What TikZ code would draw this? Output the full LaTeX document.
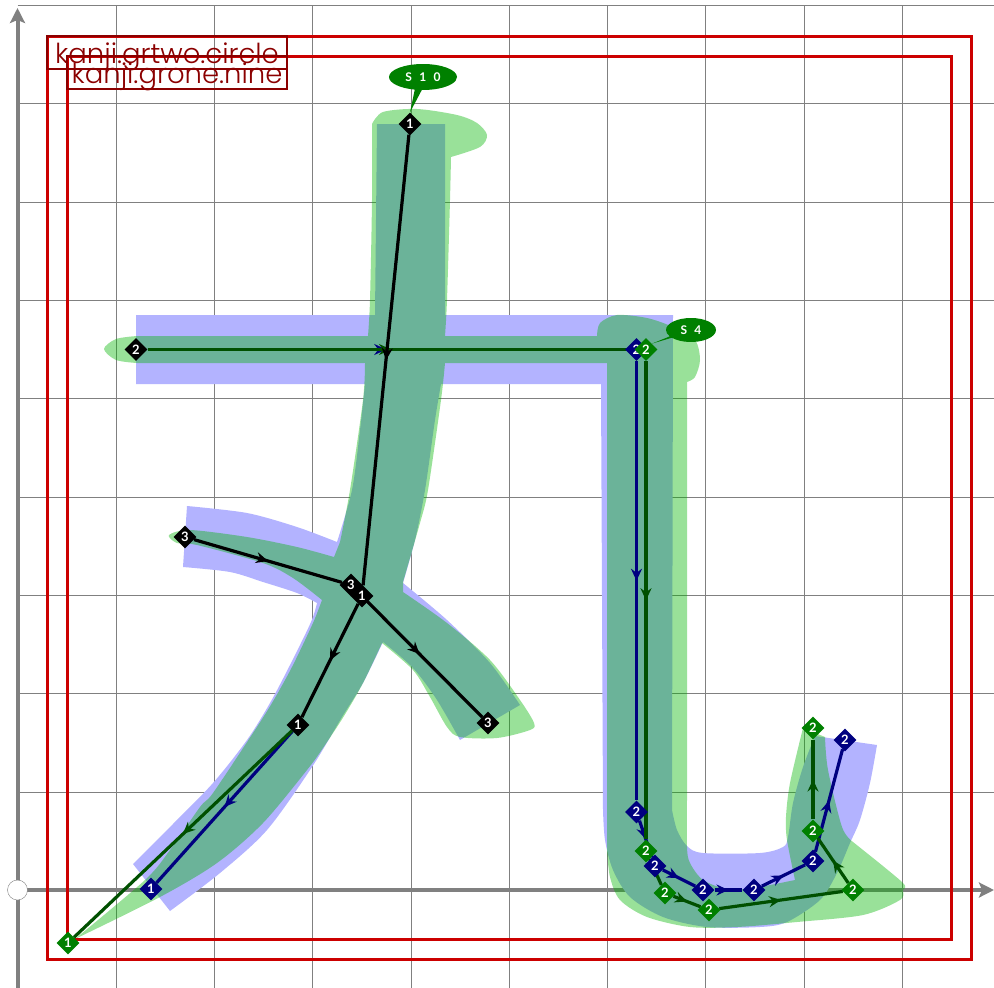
\documentclass[tikz,border=0pt]{standalone}
\usepackage{fontspec}
\setmainfont{Lato}
\newfontfamily\namefont{Poppins}[UprightFont=* Light]
\newfontfamily\tagfont{Lato}[WordSpace=2.5]
\usetikzlibrary{arrows.meta,backgrounds,decorations.markings,shapes.callouts,shapes.geometric}

\definecolor{glyphblue}{RGB}{179,179,255}
\definecolor{glyphgreen}{RGB}{0,180,0}
\definecolor{framered}{RGB}{204,0,0}
\definecolor{labelred}{RGB}{139,0,0}
\definecolor{ptblue}{RGB}{0,0,128}
\definecolor{ptgreen}{RGB}{0,128,0}
\definecolor{linegreen}{RGB}{0,80,0}

\newcommand*{\xzero}{17.5}
\newcommand*{\yzero}{890}
\newcommand*{\xmax}{994}
\newcommand*{\ymax}{988}
\newcommand*{\gridgap}{98.3}

\begin{document}
\begin{tikzpicture}
[
	x=1pt,y=-1pt,
	ptnode/.style={diamond,fill,text=white,inner sep=0pt,minimum size=23pt,font=\bfseries\fontsize{13}{13}\selectfont},
	blackpt/.style={black,ptnode},
	bluept/.style={ptblue,ptnode},
	greenpt/.style={ptgreen,ptnode},
	midarrow/.style={postaction={decorate,decoration={markings,mark=at position 0.5 with {\arrow{Stealth[length=12pt,width=11pt,inset=4pt]}}}}},
	strokeline/.style={line width=3.2pt,midarrow},
	tagnode/.style={ellipse callout,fill=ptgreen,text=white,inner sep=0pt,callout pointer arc=12,font=\tagfont\bfseries\fontsize{12}{12}\selectfont},
	framebox/.style={draw=framered,line width=3pt},
	namebox/.style={draw=labelred,line width=2pt,text=labelred,inner sep=0pt,minimum height=33pt,text height=21pt,text depth=0pt,font=\namefont\fontsize{27.5}{27.5}\selectfont},
	axisline/.style={draw=gray,line width=4pt,-{Stealth[length=15pt,width=15pt,inset=3pt]}}
]

	\useasboundingbox (0,0) rectangle (\xmax,\ymax);

	% points shared by the two glyphs
	\node[blackpt] at (410,124) (topone) {1};
	\node[blackpt] at (136,349.5) (bartwo) {2};
	\node[blackpt] at (185,537) (armleft) {3};
	\node[blackpt] at (351,585) (crossthree) {3};
	\node[blackpt] at (362,596) (crossone) {1};
	\node[blackpt] at (298,725) (joinone) {1};
	\node[blackpt] at (488,723) (armright) {3};

	% points of the blue glyph
	\node[bluept] at (151,889) (blueone) {1};
	\node[bluept] at (636.5,349.5) (bluetop) {2};
	\node[bluept] at (636.5,812) (bluea) {2};
	\node[bluept] at (655,866) (blueb) {2};
	\node[bluept] at (703,890) (bluec) {2};
	\node[bluept] at (754,890) (blued) {2};
	\node[bluept] at (813,861) (bluee) {2};
	\node[bluept] at (845,740) (bluef) {2};

	% points of the green glyph
	\node[greenpt] at (68,943) (greenone) {1};
	\node[greenpt] at (646,349.5) (greentop) {2};
	\node[greenpt] at (646,851) (greena) {2};
	\node[greenpt] at (665,893) (greenb) {2};
	\node[greenpt] at (709,910) (greenc) {2};
	\node[greenpt] at (853,890) (greend) {2};
	\node[greenpt] at (813,831) (greene) {2};
	\node[greenpt] at (813,728) (greenf) {2};

	\node[draw=gray,fill=white,circle,inner sep=0pt,minimum size=20pt] at (\xzero,\yzero) (origin) {};

	\begin{scope}[on background layer]

	% grid
	\foreach \i in {1,...,9} {
		\draw[gray] ({\xzero+\i*\gridgap},{\yzero-9*\gridgap}) -- ({\xzero+\i*\gridgap},\ymax);
		\draw[gray] (\xzero,{\yzero-\i*\gridgap}) -- (\xmax,{\yzero-\i*\gridgap});
	}

	% axes
	\coordinate (xstart) at (\xzero,\yzero);
	\coordinate (xend) at (\xmax,\yzero);
	\coordinate (ystart) at (\xzero,\ymax);
	\coordinate (yend) at (\xzero,8);
	\draw[axisline] (xstart) -- (xend);
	\draw[axisline] (ystart) -- (yend);

	% glyph outlines
	\fill[glyphblue] (377,124) -- (445,124) -- (445,315) -- (673,315) -- (672,810)
		-- plot[smooth] coordinates {(672,810) (677,830) (687,846) (703,853) (760,853) (783,847) (788,837) (793,803) (803,767) (815,736)}
		-- (877,745)
		-- plot[smooth] coordinates {(877,745) (870,783) (860,820) (850,843) (837,873) (820,900) (787,922) (760,927) (707,927) (663,917) (630,897) (613,870) (605,840) (603,810)}
		-- (601,384) -- (441,384)
		-- plot[smooth] coordinates {(441,384) (435,420) (425,490) (415,540) (403,583)}
		-- plot[smooth] coordinates {(403,583) (447,620) (490,663) (520,705)}
		-- (460,740)
		-- plot[smooth] coordinates {(460,740) (437,700) (413,668) (383,642)}
		-- plot[smooth] coordinates {(383,642) (363,683) (342,717) (312,767) (267,830) (220,873) (170,911)}
		-- (133,864)
		-- plot[smooth] coordinates {(133,864) (172,825) (213,783) (247,740) (270,703) (290,665) (311,622) (317,603)}
		-- plot[smooth] coordinates {(317,603) (297,593) (263,582) (230,572) (183,567)}
		-- (187,506)
		-- plot[smooth] coordinates {(187,506) (247,513) (297,527) (337,542)}
		-- plot[smooth] coordinates {(337,542) (352,490) (360,430) (365,384)}
		-- (136,384) -- (136,315) -- (375,315) -- cycle;
	\fill[glyphgreen,opacity=0.4] plot[smooth] coordinates {(372,124) (383,112) (417,109) (457,115) (477,123) (487,135) (480,147) (451,157)}
		-- plot[smooth] coordinates {(451,157) (450,200) (447,300) (445,336)}
		-- (597,336)
		-- plot[smooth] coordinates {(597,336) (600,323) (617,315) (647,318) (673,327) (695,340) (700,360) (695,377) (687,382)}
		-- (687,800)
		-- plot[smooth] coordinates {(687,800) (687,847) (690,863) (703,880) (727,889) (753,888) (795,880)}
		-- plot[smooth] coordinates {(795,880) (787,840) (786,817) (790,783) (803,728)}
		-- (825,737)
		-- plot[smooth] coordinates {(825,737) (828,770) (842,827) (853,842)}
		-- plot[smooth] coordinates {(853,842) (902,882) (903,890) (900,900) (863,915) (797,922) (737,927) (690,927) (647,917) (620,900) (610,877) (607,850)}
		-- (607,363) -- (445,363)
		-- plot[smooth] coordinates {(445,363) (441,400) (428,490) (420,523) (403,582)}
		-- plot[smooth] coordinates {(403,592) (447,623) (490,660) (520,700) (534,723) (530,730) (497,738) (460,737) (447,727) (430,697) (413,670) (382,643)}
		-- plot[smooth] coordinates {(382,643) (363,683) (344,716) (323,748) (307,770) (263,823) (217,863) (160,897) (75,939)}
		-- plot[smooth] coordinates {(75,939) (145,880) (170,850) (200,807) (213,793) (253,733) (272,703) (292,667) (313,623) (322,600)}
		-- plot[smooth] coordinates {(322,600) (293,578) (263,563) (197,545) (177,543) (169,535) (190,530) (247,537) (297,547) (334,557)}
		-- plot[smooth] coordinates {(340,542) (350,490) (363,400) (365,363)}
		-- (137,363)
		-- plot[smooth] coordinates {(137,363) (116,360) (104,349) (116,339) (137,336)}
		-- (368,336)
		-- plot[smooth] coordinates {(368,336) (370,300) (372,200) (372,124)} -- cycle;

	% frames and their names
	\draw[framebox] (47,36) rectangle (971,959);
	\draw[framebox] (67,56) rectangle (951,939);
	\node[namebox,minimum width=240pt] at (167,52.5) (nametwo) {kanji.grtwo.circle};
	\node[namebox,minimum width=220pt] at (177,72.5) (nameone) {kanji.grone.nine};

	% blue strokes
	\draw[ptblue,strokeline] (joinone) -- (blueone);
	\draw[ptblue,strokeline] (bartwo) -- (bluetop);
	\draw[ptblue,strokeline] (bluetop) -- (bluea);
	\draw[ptblue,strokeline] (bluea) -- (blueb);
	\draw[ptblue,strokeline] (blueb) -- (bluec);
	\draw[ptblue,strokeline] (bluec) -- (blued);
	\draw[ptblue,strokeline] (blued) -- (bluee);
	\draw[ptblue,strokeline] (bluee) -- (bluef);

	% green strokes
	\draw[linegreen,strokeline] (joinone) -- (greenone);
	\draw[linegreen,strokeline] (bartwo) -- (greentop);
	\draw[linegreen,strokeline] (greentop) -- (greena);
	\draw[linegreen,strokeline] (greena) -- (greenb);
	\draw[linegreen,strokeline] (greenb) -- (greenc);
	\draw[linegreen,strokeline] (greenc) -- (greend);
	\draw[linegreen,strokeline] (greend) -- (greene);
	\draw[linegreen,strokeline] (greene) -- (greenf);

	% strokes of both
	\draw[black,strokeline] (topone) -- (crossone);
	\draw[black,strokeline] (crossone) -- (joinone);
	\draw[black,strokeline] (armleft) -- (crossthree);
	\draw[black,strokeline] (crossthree) -- (armright);

	% tags
	\node[tagnode,minimum width=68pt,minimum height=26pt,callout absolute pointer={(topone.north)}] at (423,77) (tagten) {S 1 0};
	\node[tagnode,minimum width=50pt,minimum height=24pt,callout pointer arc=8,callout absolute pointer={(greentop.north east)}] at (691,330) (tagfour) {S 4};

	\end{scope}

\end{tikzpicture}
\end{document}
